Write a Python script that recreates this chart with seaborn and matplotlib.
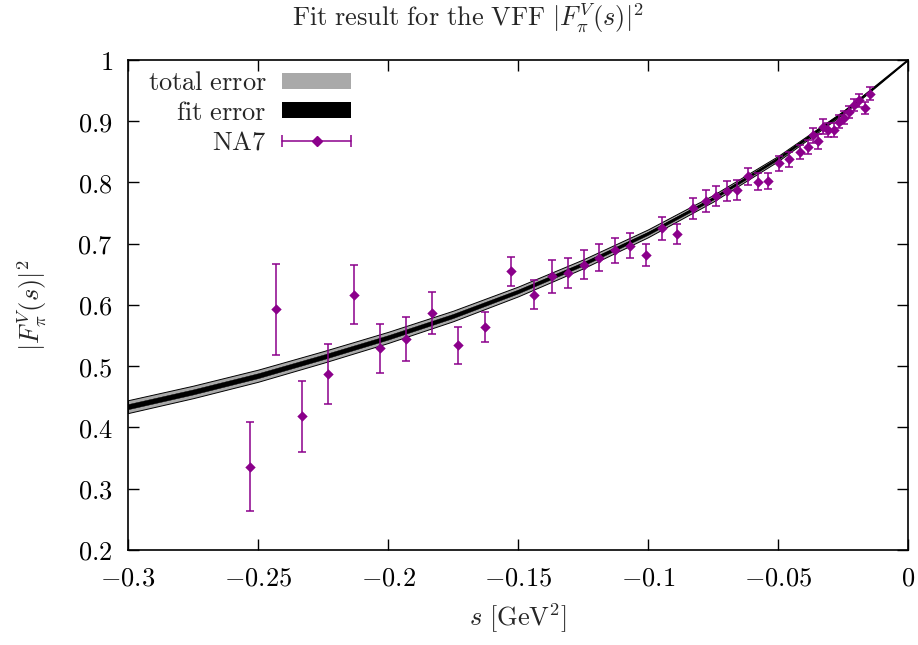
import numpy as np
import pandas as pd
import seaborn as sns
import matplotlib
matplotlib.use("Agg")
import matplotlib.pyplot as plt
from matplotlib.patches import Patch
from matplotlib.lines import Line2D
from matplotlib.legend_handler import HandlerLine2D, HandlerTuple

# fit curve (central value), with error band half widths
s_fit = [-0.3, -0.275, -0.25, -0.225, -0.2, -0.175, -0.15, -0.125, -0.1, -0.075, -0.05, -0.025, 0.0]
vff_fit = [0.434, 0.458, 0.4845, 0.515, 0.547, 0.582, 0.622, 0.667, 0.717, 0.774, 0.839, 0.914, 1.0]
tot_err = [0.0105, 0.0102, 0.0099, 0.0095, 0.0091, 0.0086, 0.0080, 0.0073, 0.0064, 0.0054, 0.0042, 0.0025, 0.0]
fit_err = [0.0042, 0.0041, 0.0040, 0.0038, 0.0036, 0.0034, 0.0031, 0.0028, 0.0025, 0.0021, 0.0017, 0.0010, 0.0]

# NA7 data points
s_na7 = [-0.2531, -0.2430, -0.2330, -0.2230, -0.2130, -0.2030, -0.1930, -0.1830, -0.1730, -0.1628,
         -0.1528, -0.1438, -0.1368, -0.1308, -0.1247, -0.1187, -0.1127, -0.1068, -0.1008, -0.0947,
         -0.0888, -0.0828, -0.0778, -0.0738, -0.0697, -0.0658, -0.0617, -0.0577, -0.0537, -0.0497,
         -0.0458, -0.0417, -0.0386, -0.0367, -0.0346, -0.0327, -0.0307, -0.0286, -0.0267, -0.0246,
         -0.0227, -0.0207, -0.0187, -0.0167, -0.0146]
vff_na7 = [0.336, 0.593, 0.418, 0.487, 0.617, 0.529, 0.544, 0.587, 0.534, 0.564,
           0.655, 0.617, 0.647, 0.652, 0.666, 0.677, 0.689, 0.697, 0.681, 0.725,
           0.716, 0.758, 0.770, 0.778, 0.786, 0.788, 0.810, 0.801, 0.802, 0.831,
           0.838, 0.850, 0.858, 0.877, 0.867, 0.891, 0.885, 0.885, 0.899, 0.906,
           0.915, 0.927, 0.934, 0.922, 0.945]
err_na7 = [0.073, 0.074, 0.058, 0.049, 0.048, 0.040, 0.036, 0.035, 0.030, 0.025,
           0.024, 0.024, 0.027, 0.025, 0.023, 0.022, 0.021, 0.020, 0.018, 0.019,
           0.017, 0.017, 0.018, 0.017, 0.016, 0.0165, 0.014, 0.014, 0.013, 0.012,
           0.012, 0.0115, 0.0115, 0.0125, 0.012, 0.012, 0.0115, 0.0115, 0.0105, 0.0105,
           0.0095, 0.010, 0.0105, 0.010, 0.0105]

x_ticks = [-0.3, -0.25, -0.2, -0.15, -0.1, -0.05, 0.0]
x_ticklabels = ['$-0.3$', '$-0.25$', '$-0.2$', '$-0.15$', '$-0.1$', '$-0.05$', '$0$']
y_ticks = [0.2, 0.3, 0.4, 0.5, 0.6, 0.7, 0.8, 0.9, 1.0]
y_ticklabels = ['$0.2$', '$0.3$', '$0.4$', '$0.5$', '$0.6$', '$0.7$', '$0.8$', '$0.9$', '$1$']

purple = '#8b008b'
grey = '#a9a9a9'
fs = 19

sns.set_theme(style='ticks')
plt.rcParams['mathtext.fontset'] = 'cm'
plt.rcParams['font.family'] = ['DejaVu Serif']

df_fit = pd.DataFrame({'s': s_fit, 'vff': vff_fit, 'tot': tot_err, 'fit': fit_err})
df_na7 = pd.DataFrame({'s': s_na7, 'vff': vff_na7, 'err': err_na7})

fig, ax = plt.subplots(figsize=(9.18, 6.45), dpi=100)
fig.subplots_adjust(left=0.1394, right=0.9891, bottom=0.1473, top=0.907)

# bands: total error (grey, black border) and fit error (black)
ax.fill_between(df_fit['s'], df_fit['vff'] - df_fit['tot'], df_fit['vff'] + df_fit['tot'],
                facecolor=grey, edgecolor='black', linewidth=0.7, zorder=2)
ax.fill_between(df_fit['s'], df_fit['vff'] - df_fit['fit'], df_fit['vff'] + df_fit['fit'],
                facecolor='black', edgecolor='black', linewidth=0.3, zorder=3)
sns.lineplot(data=df_fit, x='s', y='vff', color='black', linewidth=1.1, ax=ax, zorder=4)

# data
ax.errorbar(df_na7['s'], df_na7['vff'], yerr=df_na7['err'], fmt='none', ecolor=purple,
            elinewidth=1.1, capsize=3, capthick=1.1, zorder=5)
sns.scatterplot(data=df_na7, x='s', y='vff', marker='D', color=purple, s=28, linewidth=0,
                ax=ax, zorder=6)

ax.set_xlim(-0.3, 0.0)
ax.set_ylim(0.2, 1.0)
ax.set_xticks(x_ticks)
ax.set_xticklabels(x_ticklabels)
ax.set_yticks(y_ticks)
ax.set_yticklabels(y_ticklabels)
ax.tick_params(direction='in', length=8, width=1, top=True, right=True, labelsize=fs, pad=11,
               colors='black')
for sp in ax.spines.values():
    sp.set_color('black')
    sp.set_linewidth(1.2)

ax.set_xlabel(r'$s\ [\mathrm{GeV}^2]$', fontsize=fs)
ax.set_ylabel(r'$|F_\pi^V(s)|^2$', fontsize=fs)
ax.xaxis.set_label_coords(0.5, -0.105)
ax.yaxis.set_label_coords(-0.102, 0.5)
fig.text(0.51, 0.962, r'$\mathrm{Fit\ result\ for\ the\ VFF}\ |F_\pi^V(s)|^2$', fontsize=fs,
         ha='center', va='baseline')

# legend (gnuplot style: text then sample)
h_tot = Patch(facecolor=grey, edgecolor='none')
h_fit = Patch(facecolor='black', edgecolor='none')
h_bar = Line2D([], [], color=purple, linewidth=1.1, marker='|', markersize=8, markeredgewidth=1.1)
h_dot = Line2D([], [], color=purple, linestyle='none', marker='D', markersize=5)
ax.legend([h_tot, h_fit, (h_bar, h_dot)],
          [r'$\mathrm{total\ error}$', r'$\mathrm{fit\ error}$', r'$\mathrm{NA7}$'],
          handler_map={h_bar: HandlerLine2D(marker_pad=0, numpoints=2),
                       h_dot: HandlerLine2D(numpoints=1),
                       tuple: HandlerTuple(ndivide=1)},
          loc='upper right', bbox_to_anchor=(0.286, 0.979), frameon=False, markerfirst=False,
          fontsize=fs, borderpad=0, borderaxespad=0, handlelength=2.6, handleheight=0.55,
          handletextpad=0.6, labelspacing=0.17)

fig.savefig('out.png', dpi=100)
